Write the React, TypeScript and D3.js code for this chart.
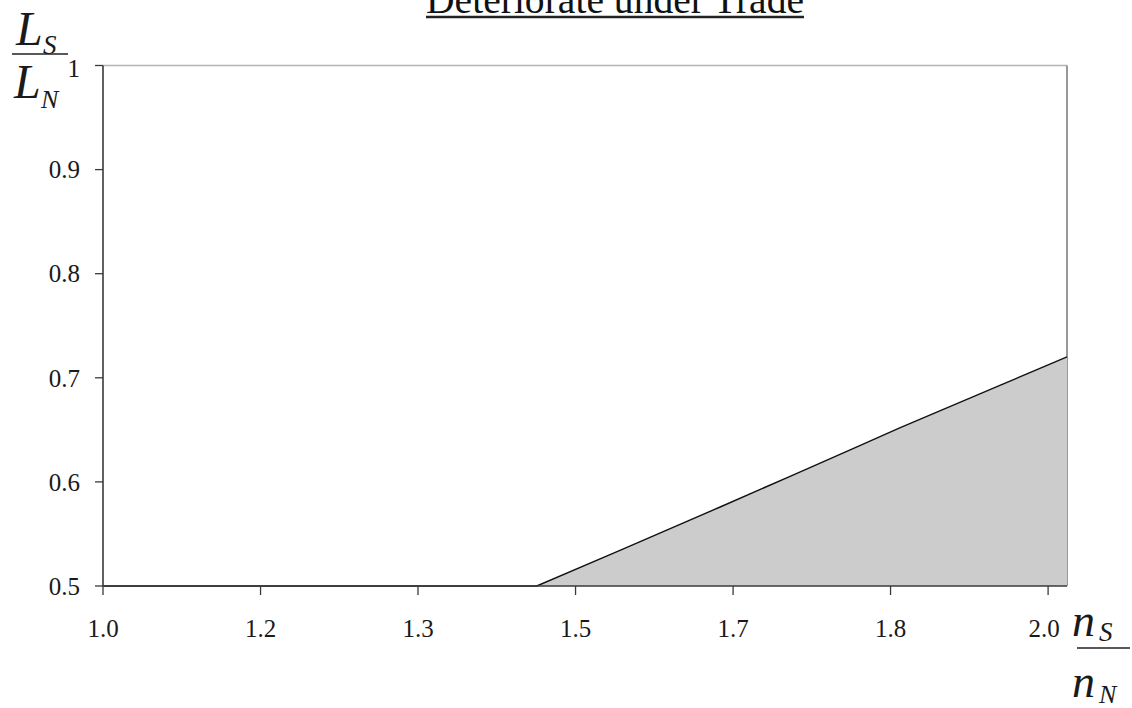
import React from "react";
import * as d3 from "d3";

// ---- data ----
const ratioN: number[] = [1.0, 1.459, 1.547, 1.653, 1.727, 1.79, 1.843, 1.949, 2.02];
const ratioL: number[] = [0.5, 0.5, 0.5343, 0.5759, 0.6054, 0.6306, 0.6518, 0.6927, 0.72];
const xTickValues: number[] = [1.0, 1.1667, 1.3333, 1.5, 1.6667, 1.8333, 2.0];
const xTickLabels: string[] = ["1.0", "1.2", "1.3", "1.5", "1.7", "1.8", "2.0"];
const yTickValues: number[] = [0.5, 0.6, 0.7, 0.8, 0.9, 1.0];
const yTickLabels: string[] = ["0.5", "0.6", "0.7", "0.8", "0.9", "1"];
const titleText = "Deteriorate under Trade";

const W = 1132;
const H = 708;
const left = 103;
const right = 1067;
const top = 65.5;
const bottom = 586;
const serif = "'Liberation Serif', 'Times New Roman', serif";

export default function App() {
  const x = d3.scaleLinear().domain([1.0, 2.02]).range([left, right]);
  const y = d3.scaleLinear().domain([0.5, 1.0]).range([bottom, top]);
  const pts = ratioN.map((n, i) => [n, ratioL[i]] as [number, number]);
  const area = d3
    .area<[number, number]>()
    .x((d) => x(d[0]))
    .y0(() => y(0.5))
    .y1((d) => y(d[1]));
  const line = d3
    .line<[number, number]>()
    .x((d) => x(d[0]))
    .y((d) => y(d[1]));
  const shaded = pts.filter((d, i) => i >= 1);

  return (
    <svg
      width={W}
      height={H}
      style={{ position: "absolute", left: 0, top: 0, background: "#fff" }}
      fontFamily={serif}
    >
      <rect x={0} y={0} width={W} height={H} fill="#fff" />
      {/* title */}
      <text x={615} y={13} fontSize={39} textAnchor="middle" textLength={378} lengthAdjust="spacingAndGlyphs" fill="#111">
        {titleText}
      </text>
      <line x1={426} x2={804} y1={17} y2={17} stroke="#222" strokeWidth={2.6} />

      {/* frame */}
      <line x1={left} x2={right} y1={top} y2={top} stroke="#b4b4b4" strokeWidth={1.5} />
      <line x1={right} x2={right} y1={top} y2={bottom} stroke="#777" strokeWidth={1.5} />

      {/* shaded region */}
      <path d={area(shaded) || ""} fill="#cccccc" stroke="none" />
      <path d={line(pts) || ""} fill="none" stroke="#111" strokeWidth={1.4} />

      {/* axes */}
      <line x1={left} x2={left} y1={top} y2={bottom} stroke="#3a3a3a" strokeWidth={1.6} />
      <line x1={left} x2={right} y1={bottom} y2={bottom} stroke="#3a3a3a" strokeWidth={1.6} />

      {yTickValues.map((v, i) => (
        <g key={"y" + i}>
          <line x1={left - 8} x2={left} y1={y(v)} y2={y(v)} stroke="#3a3a3a" strokeWidth={1.3} />
          <text x={80} y={y(v) + (i === yTickValues.length - 1 ? 3 : 0)} dy="0.35em" fontSize={25} textAnchor="end" fill="#1a1a1a">
            {yTickLabels[i]}
          </text>
        </g>
      ))}
      {xTickValues.map((v, i) => (
        <g key={"x" + i}>
          <line x1={x(v)} x2={x(v)} y1={bottom} y2={bottom + 9} stroke="#3a3a3a" strokeWidth={1.3} />
          <text x={x(v) - (i === xTickValues.length - 1 ? 4 : 0)} y={637} fontSize={25} textAnchor="middle" fill="#1a1a1a">
            {xTickLabels[i]}
          </text>
        </g>
      ))}

      {/* y axis label L_S / L_N */}
      <g fill="#1a1a1a" fontStyle="italic">
        <text x={16} y={45} fontSize={48}>L</text>
        <text x={43} y={54} fontSize={27}>S</text>
        <line x1={12} x2={68} y1={54} y2={54} stroke="#222" strokeWidth={1.6} />
        <text x={14} y={98} fontSize={48}>L</text>
        <text x={41} y={108} fontSize={26}>N</text>
      </g>

      {/* x axis label n_S / n_N */}
      <g fill="#1a1a1a" fontStyle="italic">
        <text x={1072} y={636} fontSize={46}>n</text>
        <text x={1099} y={641} fontSize={27}>S</text>
        <line x1={1077} x2={1130} y1={648} y2={648} stroke="#222" strokeWidth={1.6} />
        <text x={1072} y={697} fontSize={46}>n</text>
        <text x={1099} y={703} fontSize={26}>N</text>
      </g>
    </svg>
  );
}
